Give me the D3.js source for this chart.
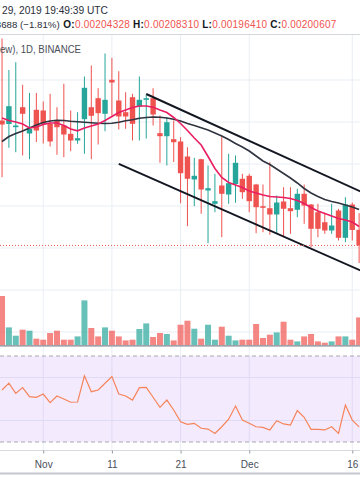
<!DOCTYPE html>
<html>
<head>
<meta charset="utf-8">
<script src="https://cdn.jsdelivr.net/npm/d3@7/dist/d3.min.js"></script>
<style>
html,body{margin:0;padding:0;background:#ffffff;overflow:hidden;}
svg{display:block;}
text{font-family:"Liberation Sans",Arial,sans-serif;}
</style>
</head>
<body>
<svg id="chart" width="360" height="504"></svg>
<script>
// ---------- data (prices in satoshi, 1e-8 BTC) ----------
const firstDay = "2019-10-26";
const lastDay  = "2019-12-17";
const openP  = [230358,229524,228763,233524,227262,232905,232739,229572,230358,229167,227191,225596,230667,233524,235667,231953,240048,235120,232334,235905,233691,235286,235667,227334,226620,225905,225358,221786,216310,221143,213691,210524,214881,212738,215238,216477,217191,215119,209953,209476,207976,211072,209476,209095,212905,210357,208524,206143,204167,208929,202429,210357,204328];
const highP  = [249882,242382,244239,238858,236906,236906,234882,236715,233524,239096,232739,232334,240834,243453,238048,246310,245287,242096,237096,236715,240834,236548,238048,231548,231143,230358,226381,224000,221477,221239,219643,217667,226548,222429,222024,217667,217667,215286,215119,220429,212500,214476,214476,214096,215119,210500,210524,208381,210524,209334,212096,210834,208310];
const lowP   = [216857,223858,222810,222024,221143,225239,224881,224167,222191,221619,223048,224810,222429,221143,224643,227810,231548,228215,228382,225596,225596,226072,229167,220286,219643,220477,210667,205191,209953,208143,201143,208524,202571,210524,210762,211715,208524,203524,203762,203143,203524,202571,203381,207333,205762,200190,202571,203381,203381,201786,201381,201786,196410];
const closeP = [229405,233763,229167,231953,228382,227977,229477,225358,228763,227024,225596,226143,238144,231477,232096,235286,239406,231310,231310,229572,235286,235667,231786,226620,229953,225191,217810,216477,217191,213929,214238,211143,212905,215429,220286,213286,211143,209714,209572,207976,210834,209334,208762,212905,210119,204572,204572,204167,205357,202429,210357,204295,200607];
const volume = [49000,17600,9300,15300,14300,6300,5300,12000,14300,5300,5300,8600,44600,17000,8600,17600,14300,8600,4600,5300,16000,21600,8000,12000,11000,4600,20300,24300,16300,6300,20300,5300,18300,9300,4600,5300,5300,21000,7000,10300,12600,23300,5300,3600,8600,11000,3600,2300,3600,8600,8600,5300,27600];
const maFast = [230953,230358,230001,229524,228572,228810,229405,229763,229763,229167,228334,227905,228572,229048,229524,230358,231310,232263,232858,233453,233810,233810,233501,232858,232263,231072,229643,227977,226191,224524,221786,218929,216786,215596,215000,214405,213572,213096,212619,212262,212143,212024,211786,211310,210595,209643,208810,208214,207619,207024,206667,206191,205119];
const maSlow = [225358,226548,227262,227858,228572,229286,229882,230239,230429,230358,230191,230072,229953,229834,229691,229643,229691,229953,230286,230524,230882,231072,231191,231120,230953,230667,230239,229643,229167,228643,228096,227382,226667,225834,224881,224048,223096,221905,220715,219881,218810,217738,216667,215477,214167,213096,212262,211548,211072,210715,210238,209762,209167];
const rsi = [54.2,57.4,52.6,55.3,51.1,50.8,52.3,48.3,51.4,50.0,48.5,48.6,60.8,53.4,54.2,57.3,60.4,52.3,51.4,49.5,55.3,55.4,50.8,46.1,49.5,44.9,39.4,38.2,38.7,36.4,36.0,34.0,37.1,40.6,46.7,40.2,38.7,37.1,36.8,35.6,39.9,38.4,37.9,44.6,41.5,35.9,35.9,35.6,37.1,34.0,47.2,40.2,37.0];
const priceTicks = [180000,190000,200000,210000,220000,230000,240000];
const rsiBands = [30,70];
const rsiTicks = [40,60];
const timeTicks = ["2019-11-01","2019-11-11","2019-11-21","2019-12-01","2019-12-16"];
const upperTrend = [["2019-11-16",236667],["2019-12-19",212120]];
const lowerTrend = [["2019-11-12",220048],["2019-12-19",193357]];
const headerTime = "29, 2019 19:49:39 UTC";
const headerSymbol = "ew), 1D, BINANCE";

// ---------- setup ----------
const UP = "#26a69a", DOWN = "#ef5350", GRID = "#e9eef4";
const svg = d3.select("#chart");
const W = 360;
const parseDay = d3.utcParse("%Y-%m-%d");
const days = d3.utcDay.range(parseDay(firstDay), d3.utcDay.offset(parseDay(lastDay), 1));
const bars = days.map((d, i) => ({d, o: openP[i], h: highP[i], l: lowP[i], c: closeP[i], v: volume[i], f: maFast[i], s: maSlow[i], r: rsi[i]}));

const x = d3.scaleUtc().domain([parseDay("2019-10-27"), parseDay("2019-12-16")]).range([8.9, 352.25]);
const y = d3.scaleLinear().domain([180000, 240000]).range([332, 80]);
const yv = d3.scaleLinear().domain([0, 100000]).range([345, 245]);
const yr = d3.scaleLinear().domain([30, 70]).range([442, 356]);

const main = {top: 35, bottom: 345};
const defs = svg.append("defs");
defs.append("clipPath").attr("id", "clipMain").append("rect")
  .attr("x", 0).attr("y", main.top).attr("width", W).attr("height", main.bottom - main.top);
defs.append("clipPath").attr("id", "clipRsi").append("rect")
  .attr("x", 0).attr("y", 347).attr("width", W).attr("height", 103);

svg.append("rect").attr("width", W).attr("height", 504).attr("fill", "#fff");

// grid
const g = svg.append("g");
g.selectAll(".hg").data(priceTicks).join("line")
  .attr("x1", 0).attr("x2", W).attr("y1", d => y(d)).attr("y2", d => y(d))
  .attr("stroke", GRID).attr("clip-path", "url(#clipMain)");
g.selectAll(".rg").data(rsiTicks).join("line")
  .attr("x1", 0).attr("x2", W).attr("y1", d => yr(d)).attr("y2", d => yr(d))
  .attr("stroke", GRID);
g.selectAll(".vg").data(timeTicks).join("line")
  .attr("x1", d => x(parseDay(d))).attr("x2", d => x(parseDay(d)))
  .attr("y1", main.top).attr("y2", 450).attr("stroke", GRID);

// RSI pane
svg.append("rect").attr("x", 0).attr("width", W)
  .attr("y", yr(rsiBands[1])).attr("height", yr(rsiBands[0]) - yr(rsiBands[1]))
  .attr("fill", "#a855f7").attr("fill-opacity", 0.12);
svg.selectAll(".band").data(rsiBands).join("line")
  .attr("x1", 0).attr("x2", W).attr("y1", d => yr(d)).attr("y2", d => yr(d))
  .attr("stroke", "#a6a9b1").attr("stroke-dasharray", "4,3");
svg.append("path").datum(bars)
  .attr("d", d3.line().x(b => x(b.d)).y(b => yr(b.r)))
  .attr("fill", "none").attr("stroke", "#f5845a").attr("stroke-width", 1.2)
  .attr("clip-path", "url(#clipRsi)");

// volume
const mg = svg.append("g").attr("clip-path", "url(#clipMain)");
mg.selectAll(".vol").data(bars).join("rect")
  .attr("x", b => x(b.d) - 3).attr("width", 6)
  .attr("y", b => yv(b.v)).attr("height", b => yv(0) - yv(b.v))
  .attr("fill", b => b.c >= b.o ? UP : DOWN).attr("fill-opacity", 0.7);

// candles
mg.selectAll(".wick").data(bars).join("line")
  .attr("x1", b => x(b.d)).attr("x2", b => x(b.d))
  .attr("y1", b => y(b.h)).attr("y2", b => y(b.l))
  .attr("stroke", b => b.c >= b.o ? UP : DOWN).attr("stroke-width", 1);
mg.selectAll(".body").data(bars).join("rect")
  .attr("x", b => x(b.d) - 2.7).attr("width", 5.4)
  .attr("y", b => y(Math.max(b.o, b.c)))
  .attr("height", b => Math.max(1.2, Math.abs(y(b.o) - y(b.c))))
  .attr("fill", b => b.c >= b.o ? UP : DOWN);

// moving averages
mg.append("path").datum(bars)
  .attr("d", d3.line().x(b => x(b.d)).y(b => y(b.s)))
  .attr("fill", "none").attr("stroke", "#2f3440").attr("stroke-width", 1.6);
mg.append("path").datum(bars)
  .attr("d", d3.line().x(b => x(b.d)).y(b => y(b.f)))
  .attr("fill", "none").attr("stroke", "#e91e63").attr("stroke-width", 1.6);

// trend lines
[upperTrend, lowerTrend].forEach(t => {
  mg.append("line")
    .attr("x1", x(parseDay(t[0][0]))).attr("y1", y(t[0][1]))
    .attr("x2", x(parseDay(t[1][0]))).attr("y2", y(t[1][1]))
    .attr("stroke", "#131722").attr("stroke-width", 2);
});

// last price line
const last = bars[bars.length - 1], prev = bars[bars.length - 2];
mg.append("line").attr("x1", 0).attr("x2", W)
  .attr("y1", y(last.c)).attr("y2", y(last.c))
  .attr("stroke", DOWN).attr("stroke-width", 1).attr("stroke-dasharray", "1,2");

// pane separator
svg.append("line").attr("x1", 0).attr("x2", W).attr("y1", 345.8).attr("y2", 345.8)
  .attr("stroke", "#80838d").attr("stroke-width", 1.2);

// time axis
svg.append("line").attr("x1", 0).attr("x2", W).attr("y1", 450.5).attr("y2", 450.5)
  .attr("stroke", "#d6d9df");
const axis = d3.axisBottom(x)
  .tickValues(timeTicks.map(parseDay))
  .tickSize(3).tickSizeOuter(0).tickPadding(7)
  .tickFormat(d => d.getUTCDate() === 1 ? d3.utcFormat("%b")(d) : d3.utcFormat("%-d")(d));
const ax = svg.append("g").attr("transform", "translate(0,450.5)").call(axis);
ax.select(".domain").remove();
ax.selectAll(".tick line").attr("stroke", "#9598a1");
ax.selectAll(".tick text").attr("fill", "#4a4e5a").attr("font-size", 10)
  .attr("font-family", "Liberation Sans, Arial, sans-serif");
svg.append("line").attr("x1", 0).attr("x2", W).attr("y1", 473.5).attr("y2", 473.5)
  .attr("stroke", "#c4c7cd").attr("stroke-width", 1.8);

// header
svg.append("rect").attr("x", 0).attr("y", 0).attr("width", W).attr("height", 34).attr("fill", "#fff");
svg.append("line").attr("x1", 0).attr("x2", W).attr("y1", 34.5).attr("y2", 34.5)
  .attr("stroke", "#d4d7dd");
svg.append("text").attr("x", 2).attr("y", 14).attr("font-size", 10.2).attr("fill", "#2a2e39")
  .text(headerTime);
const chg = last.c - prev.c;
const pct = chg / prev.c * 100;
const fmt = v => (v / 1e8).toFixed(8);
const chgStr = (chg < 0 ? "\u2212" : "+") + fmt(Math.abs(chg)) + " (" + (pct < 0 ? "\u2212" : "+") + Math.abs(pct).toFixed(2) + "%)";
const chgText = svg.append("text").attr("x", 0).attr("y", 28)
  .attr("font-size", 9.7).attr("fill", "#2a2e39").text(chgStr);
// place the change text so that its trailing "688 (…)" part starts at the left edge, as in the cropped reference
const cut = chgStr.indexOf("688");
const preW = cut > 0 ? chgText.node().getSubStringLength(0, cut) : 0;
chgText.attr("x", 1.2 - preW);
const ohlc = svg.append("text").attr("x", 63.3).attr("y", 28).attr("font-size", 10)
  .style("white-space", "pre").attr("textLength", 273).attr("lengthAdjust", "spacing");
[["O:", last.o], [" H:", last.h], [" L:", last.l], [" C:", last.c]].forEach(([lab, v]) => {
  ohlc.append("tspan").attr("font-weight", "bold").attr("fill", "#131722").text(lab);
  ohlc.append("tspan").attr("fill", DOWN).text(fmt(v));
});
svg.append("text").attr("x", 0).attr("y", 53).attr("font-size", 10.5).attr("fill", "#4a4e59")
  .attr("textLength", 81).attr("lengthAdjust", "spacingAndGlyphs").text(headerSymbol);
</script>
</body>
</html>
